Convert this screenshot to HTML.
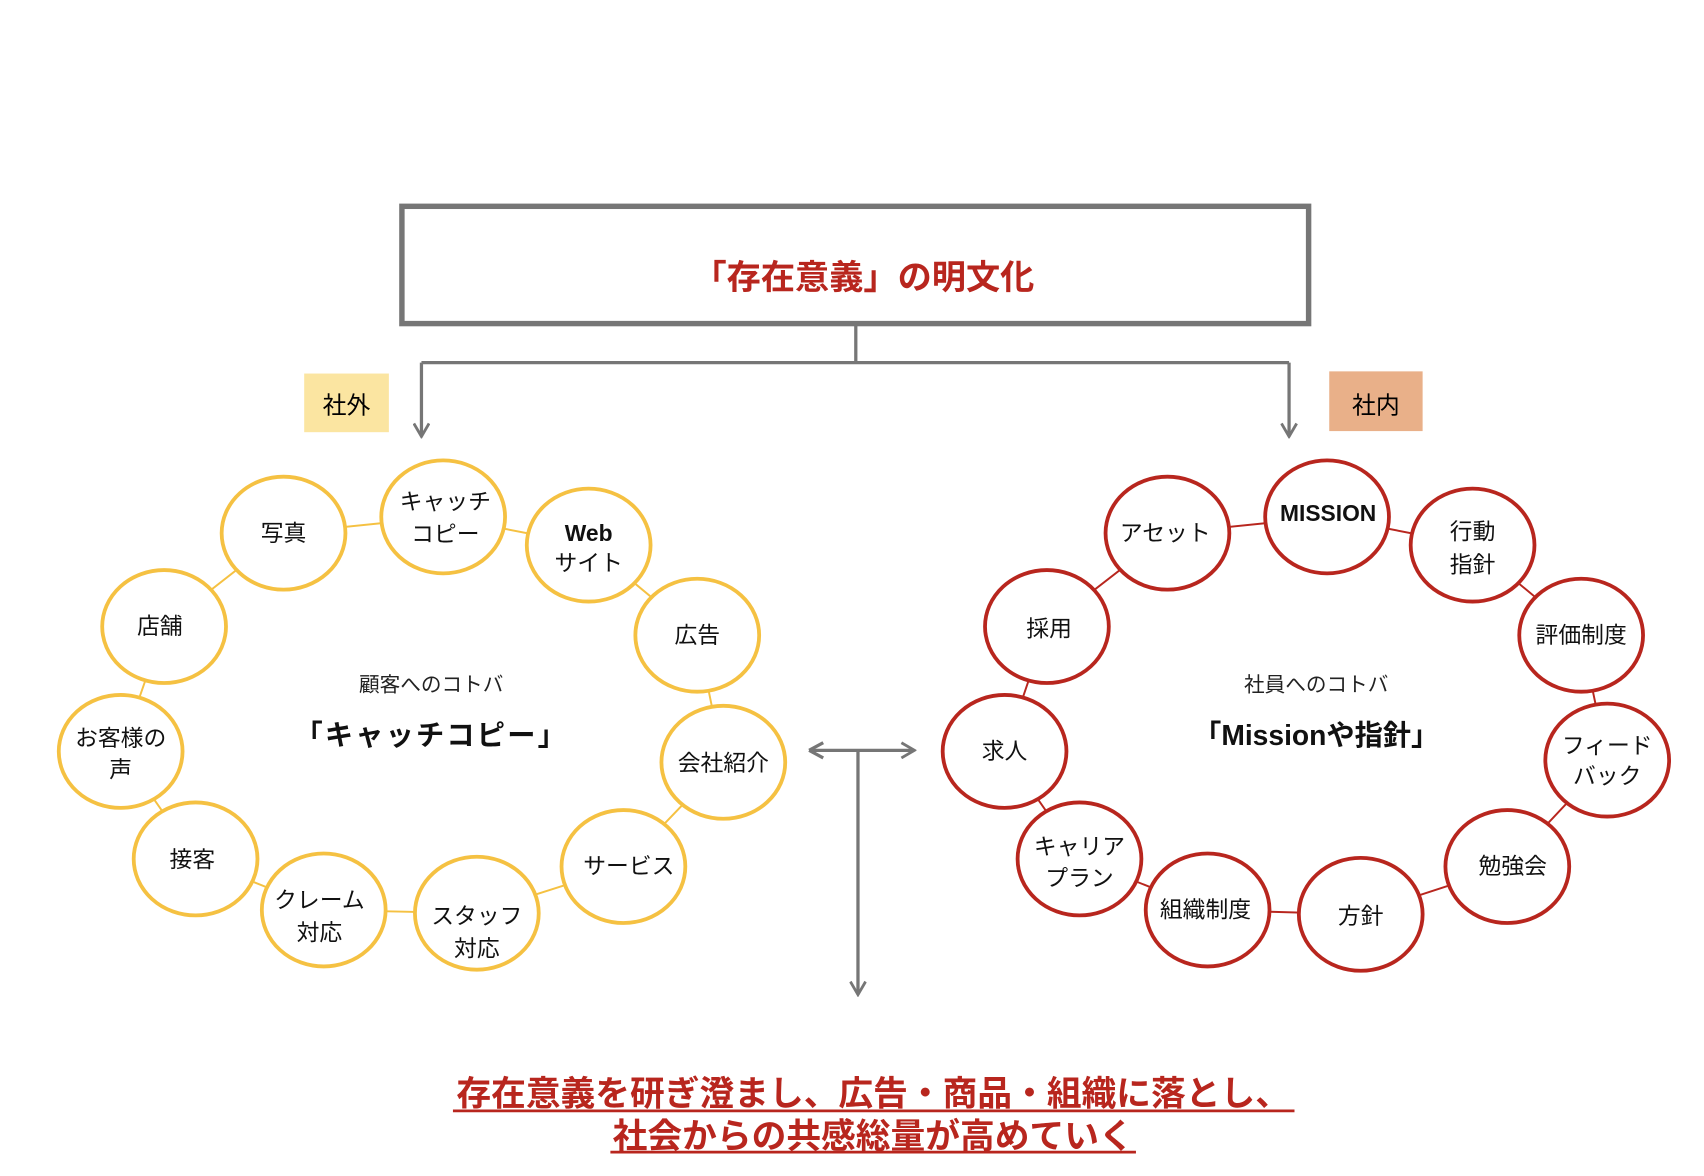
<!DOCTYPE html>
<html><head><meta charset="utf-8"><style>
html,body{margin:0;padding:0;background:#fff;}
svg{display:block;}
text{font-family:"Liberation Sans","Noto Sans CJK JP",sans-serif;}
</style></head><body>
<svg width="1704" height="1176" viewBox="0 0 1569 1083" xmlns="http://www.w3.org/2000/svg">
<defs>
<marker id="ah" viewBox="0 0 16 16" refX="14" refY="8" markerWidth="16" markerHeight="16" markerUnits="userSpaceOnUse" orient="auto">
<path d="M2,1 L14,8 L2,15" fill="none" stroke="#767676" stroke-width="2.6"/>
</marker>
</defs>
<rect x="370" y="190" width="835" height="108" fill="#fff" stroke="#767676" stroke-width="5"/>
<text x="795" y="266" text-anchor="middle" font-size="31.5" font-weight="bold" fill="#b8261e">「存在意義」の明文化</text>
<path d="M788,300 V334 M388,334 H1187" stroke="#767676" stroke-width="3" fill="none"/>
<path d="M388,334 V402" stroke="#767676" stroke-width="3" fill="none" marker-end="url(#ah)"/>
<path d="M1187,334 V402" stroke="#767676" stroke-width="3" fill="none" marker-end="url(#ah)"/>
<rect x="280" y="344" width="78" height="54" fill="#fbe5a1"/>
<text x="319" y="381" text-anchor="middle" font-size="22">社外</text>
<rect x="1224" y="342" width="86" height="55" fill="#e9b089"/>
<text x="1267" y="381" text-anchor="middle" font-size="22">社内</text>
<path d="M745,691 H842" stroke="#767676" stroke-width="3" fill="none" marker-end="url(#ah)"/>
<path d="M745,691 L758,684 M745,691 L758,698" stroke="#767676" stroke-width="3" fill="none"/>
<path d="M790,691 V916" stroke="#767676" stroke-width="3" fill="none" marker-end="url(#ah)"/>
<polygon points="261,491 408,476 542,502 642,585 666,702 574,798 439,841 298,838 180,791 111,692 151,577" fill="none" stroke="#f5c142" stroke-width="1.8"/>
<polygon points="1075,491 1222,476 1356,502 1456,585 1480,700 1388,798 1253,842 1112,838 994,791 925,692 964,577" fill="none" stroke="#b8261e" stroke-width="1.8"/>
<g fill="#fff" stroke="#f5c142" stroke-width="3.5">
<ellipse cx="261" cy="491" rx="57" ry="52"/><ellipse cx="408" cy="476" rx="57" ry="52"/><ellipse cx="542" cy="502" rx="57" ry="52"/><ellipse cx="642" cy="585" rx="57" ry="52"/><ellipse cx="666" cy="702" rx="57" ry="52"/><ellipse cx="574" cy="798" rx="57" ry="52"/><ellipse cx="439" cy="841" rx="57" ry="52"/><ellipse cx="298" cy="838" rx="57" ry="52"/><ellipse cx="180" cy="791" rx="57" ry="52"/><ellipse cx="111" cy="692" rx="57" ry="52"/><ellipse cx="151" cy="577" rx="57" ry="52"/>
</g>
<g fill="#fff" stroke="#b8261e" stroke-width="3.5">
<ellipse cx="1075" cy="491" rx="57" ry="52"/><ellipse cx="1222" cy="476" rx="57" ry="52"/><ellipse cx="1356" cy="502" rx="57" ry="52"/><ellipse cx="1456" cy="585" rx="57" ry="52"/><ellipse cx="1480" cy="700" rx="57" ry="52"/><ellipse cx="1388" cy="798" rx="57" ry="52"/><ellipse cx="1253" cy="842" rx="57" ry="52"/><ellipse cx="1112" cy="838" rx="57" ry="52"/><ellipse cx="994" cy="791" rx="57" ry="52"/><ellipse cx="925" cy="692" rx="57" ry="52"/><ellipse cx="964" cy="577" rx="57" ry="52"/>
</g>
<g font-size="21" text-anchor="middle" fill="#111">
<text x="261" y="498">写真</text>
<text x="410" y="469">キャッチ</text><text x="410" y="499">コピー</text>
<text x="542" y="498" font-weight="bold">Web</text><text x="542" y="526">サイト</text>
<text x="642" y="592">広告</text>
<text x="666" y="710">会社紹介</text>
<text x="579" y="805">サービス</text>
<text x="439" y="851">スタッフ</text><text x="439" y="881">対応</text>
<text x="294" y="836">クレーム</text><text x="294" y="866">対応</text>
<text x="177" y="799">接客</text>
<text x="111" y="687">お客様の</text><text x="111" y="716">声</text>
<text x="147" y="584">店舗</text>
<text x="1073" y="498">アセット</text>
<text x="1223" y="480" font-weight="bold">MISSION</text>
<text x="1356" y="497">行動</text><text x="1356" y="527">指針</text>
<text x="1456" y="592">評価制度</text>
<text x="1480" y="694">フィード</text><text x="1480" y="722">バック</text>
<text x="1393" y="805">勉強会</text>
<text x="1253" y="851">方針</text>
<text x="1110" y="845">組織制度</text>
<text x="994" y="787">キャリア</text><text x="994" y="816">プラン</text>
<text x="925" y="699">求人</text>
<text x="966" y="586">採用</text>
</g>
<text x="397" y="637" text-anchor="middle" font-size="19" fill="#222">顧客へのコトバ</text>
<text x="397" y="686" text-anchor="middle" font-size="26" font-weight="bold" fill="#111" letter-spacing="2">「キャッチコピー」</text>
<text x="1212" y="637" text-anchor="middle" font-size="19" fill="#222">社員へのコトバ</text>
<text x="1212" y="686" text-anchor="middle" font-size="26" font-weight="bold" fill="#111">「Missionや指針」</text>
<g font-size="32" font-weight="bold" fill="#b8261e" text-anchor="middle">
<text x="804" y="1018">存在意義を研ぎ澄まし、広告・商品・組織に落とし、</text>
<text x="804" y="1057">社会からの共感総量が高めていく</text>
</g>
<path d="M417,1023 H1192 M562,1061 H1046" stroke="#b8261e" stroke-width="2.5"/>
</svg>
</body></html>
